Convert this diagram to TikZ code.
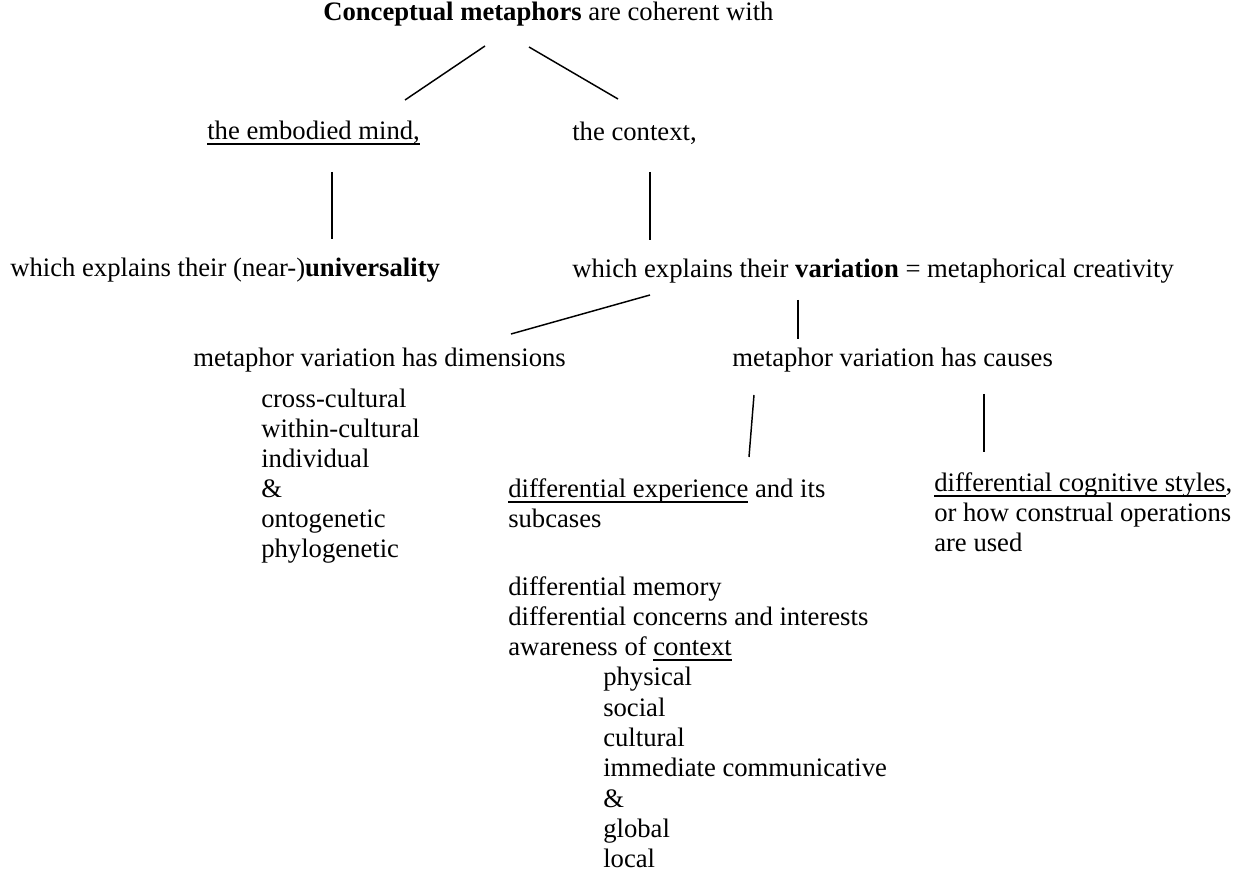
\documentclass[tikz,border=0pt]{standalone}
\usepackage{fontspec}
\setmainfont{Liberation Serif}
\newcommand{\ulined}[1]{\setbox0=\hbox{#1}\rlap{\rule[-3.7pt]{\wd0}{1.2pt}}\box0\relax}

\begin{document}
\begin{tikzpicture}[x=0.75pt,y=0.75pt,yscale=-1,xscale=1,
  txt/.style={anchor=base west,inner sep=0.75pt},
  link/.style={line width=1.1pt},
  font=\fontsize{20}{22.5}\selectfont]
\useasboundingbox (0,0) rectangle (1240,873);

% Text Node
\node (title) [txt] at (322,21) {\textbf{Conceptual metaphors} are coherent with};
% Text Node
\node (mind) [txt] at (206,140) {\ulined{the embodied mind,}};
% Text Node
\node (context) [txt] at (571,141) {the context,};
% Text Node
\node (univ) [txt] at (9,277) {which explains their (near-)\textbf{universality}};
% Text Node
\node (var) [txt] at (571,278) {which explains their \textbf{variation} = metaphorical creativity};
% Text Node
\node (dims) [txt] at (192,367) {metaphor variation has dimensions};
% Text Node
\node (causes) [txt] at (731,367) {metaphor variation has causes};

% Text Node: dimensions list
\node (cross) [txt] at (260,408) {cross-cultural};
\node (within) [txt] at (260,438) {within-cultural};
\node (indiv) [txt] at (260,468) {individual};
\node (amp1) [txt] at (260,498) {\&};
\node (onto) [txt] at (260,528) {ontogenetic};
\node (phylo) [txt] at (260,558) {phylogenetic};

% Text Node: causes
\node (exp) [txt] at (507,498) {\ulined{differential experience} and its};
\node (subc) [txt] at (507,528) {subcases};
\node (cogn) [txt] at (933,492) {\ulined{differential cognitive styles},};
\node (constr) [txt] at (933,522) {or how construal operations};
\node (used) [txt] at (933,552) {are used};

% Text Node: subcases list
\node (memory) [txt] at (507,595) {differential memory};
\node (concern) [txt] at (507,625.3) {differential concerns and interests};
\node (aware) [txt] at (507,655.6) {awareness of \ulined{context}};
\node (phys) [txt] at (602,685.9) {physical};
\node (social) [txt] at (602,716.2) {social};
\node (cult) [txt] at (602,746.5) {cultural};
\node (immed) [txt] at (602,776.8) {immediate communicative};
\node (amp2) [txt] at (602,807.1) {\&};
\node (global) [txt] at (602,837.4) {global};
\node (local) [txt] at (602,867.7) {local};

% line ends
\coordinate (title-l) at (485,46);
\coordinate (mind-t) at (405,100);
\coordinate (title-r) at (529,47);
\coordinate (context-t) at (618,99);
\coordinate (mind-b) at (332,172);
\coordinate (univ-t) at (332,239);
\coordinate (context-b) at (650,172);
\coordinate (var-t) at (650,240);
\coordinate (var-l) at (650,295);
\coordinate (dims-t) at (511,334);
\coordinate (var-r) at (798,300);
\coordinate (causes-t) at (798,339);
\coordinate (causes-l) at (754,395);
\coordinate (exp-t) at (749,457);
\coordinate (causes-r) at (984,394);
\coordinate (cogn-t) at (984,452);

%Straight Lines
\draw [link] (title-l) -- (mind-t);
\draw [link] (title-r) -- (context-t);
\draw [link] (mind-b) -- (univ-t);
\draw [link] (context-b) -- (var-t);
\draw [link] (var-l) -- (dims-t);
\draw [link] (var-r) -- (causes-t);
\draw [link] (causes-l) -- (exp-t);
\draw [link] (causes-r) -- (cogn-t);

\end{tikzpicture}
\end{document}
